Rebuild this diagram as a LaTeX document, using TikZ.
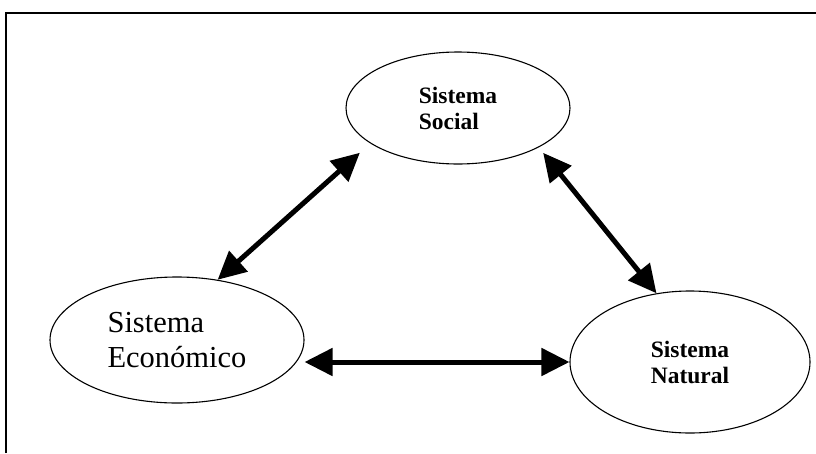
\documentclass[tikz,border=0pt]{standalone}
\usepackage{fontspec}
\setmainfont{Liberation Serif}
\usepackage{tikz}
\usetikzlibrary{shapes.geometric}
\usetikzlibrary{arrows.meta}

\begin{document}
\begin{tikzpicture}[x=1pt,y=-1pt,
  sistema/.style={draw,ellipse,line width=1.1pt,inner sep=0pt,align=left},
  small/.style={font=\fontsize{23.5}{26}\selectfont\bfseries},
  big/.style={font=\fontsize{30.5}{35}\selectfont},
  link/.style={line width=5pt,{Triangle[length=28pt,width=27pt]}-{Triangle[length=28pt,width=27pt]}}]

% Fix the page size
\useasboundingbox (0,0) rectangle (816,453);

% Define the frame corners
\coordinate (F1) at (6,453);
\coordinate (F2) at (6,13);
\coordinate (F3) at (816,13);

% Draw the frame
\draw[line width=2pt] (F1) -- (F2) -- (F3);

% Draw the three systems
\node[sistema,small,minimum width=224pt,minimum height=112pt] (soc) at (458,108) {Sistema\\Social};
\node[sistema,big,minimum width=254pt,minimum height=126pt] (eco) at (177,340) {Sistema\\Económico};
\node[sistema,small,minimum width=240pt,minimum height=142pt] (nat) at (690,362) {Sistema\\Natural};

% Draw the arrows
\draw[link,shorten <=14pt] (soc.202) -- (eco.56);
\draw[link,shorten <=7pt] (soc.334) -- (nat.116);
\draw[link] (nat.west -| eco.east) -- (nat.west);

\end{tikzpicture}
\end{document}
